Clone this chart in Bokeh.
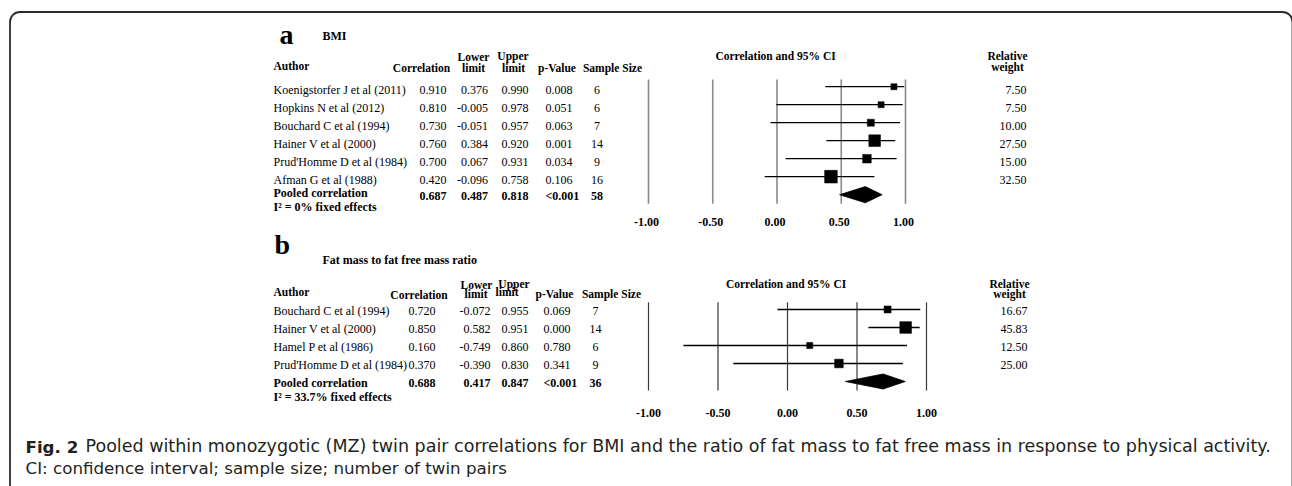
from math import sqrt

from bokeh.core.properties import value
from bokeh.embed import file_html
from bokeh.models import BoxAnnotation, Range1d
from bokeh.plotting import figure
from bokeh.resources import INLINE

# ---------------------------------------------------------------- data
# Panel a: BMI
a_authors = ["Koenigstorfer J et al (2011)", "Hopkins N et al (2012)",
             "Bouchard C et al (1994)", "Hainer V et al (2000)",
             "Prud'Homme D et al (1984)", "Afman G et al (1988)"]
a_corr = [0.910, 0.810, 0.730, 0.760, 0.700, 0.420]
a_lower = [0.376, -0.005, -0.051, 0.384, 0.067, -0.096]
a_upper = [0.990, 0.978, 0.957, 0.920, 0.931, 0.758]
a_pval = [0.008, 0.051, 0.063, 0.001, 0.034, 0.106]
a_size = [6, 6, 7, 14, 9, 16]
a_weight = [7.50, 7.50, 10.00, 27.50, 15.00, 32.50]
a_pooled = [0.687, 0.487, 0.818]          # estimate, lower, upper
a_pooled_p = "<0.001"
a_pooled_n = 58
a_het = "I\u00b2 = 0% fixed effects"

# Panel b: fat mass to fat free mass ratio
b_authors = ["Bouchard C et al (1994)", "Hainer V et al (2000)",
             "Hamel P et al (1986)", "Prud'Homme D et al (1984)"]
b_corr = [0.720, 0.850, 0.160, 0.370]
b_lower = [-0.072, 0.582, -0.749, -0.390]
b_upper = [0.955, 0.951, 0.860, 0.830]
b_pval = [0.069, 0.000, 0.780, 0.341]
b_size = [7, 14, 6, 9]
b_weight = [16.67, 45.83, 12.50, 25.00]
b_pooled = [0.688, 0.417, 0.847]
b_pooled_p = "<0.001"
b_pooled_n = 36
b_het = "I\u00b2 = 33.7% fixed effects"

ticks = [-1.0, -0.5, 0.0, 0.5, 1.0]
tick_labels = ["-1.00", "-0.50", "0.00", "0.50", "1.00"]

caption_bold = "Fig. 2"
caption_1 = ("Pooled within monozygotic (MZ) twin pair correlations for BMI and the ratio "
             "of fat mass to fat free mass in response to physical activity.")
caption_2 = "CI: confidence interval; sample size; number of twin pairs"

# ---------------------------------------------------------------- layout
W, H = 1292, 486
SERIF = "Liberation Serif"
SANS = "DejaVu Sans"
RAISE = 0.33   # lifts glyphs so that the given y is their baseline

layout_a = dict(
    letter=("a", 279, 43), title=("BMI", 322, 39.5),
    heads=[("Author", 273, 69.5, "left"), ("Correlation", 421, 71.7, "center"),
           ("Lower", 473, 60, "center"), ("limit", 473, 71.7, "center"),
           ("Upper", 512.5, 59.3, "center"), ("limit", 513, 71.7, "center"),
           ("p-Value", 556.5, 71.7, "center"), ("Sample Size", 612, 71.7, "center")],
    ci_head_y=59.3, rel=(1007, 59.3, 70),
    px_m1=648, px_p1=905, row0=86.2, dy=18.0,
    col_author=273, col_corr=446, col_lower=487.5, col_upper=528, col_p=545,
    col_n=596.5, col_w=1026,
    text_off=7.5, pooled_lab_off=2.5, pooled_val_off=5.0, het_off=16.5,
    tick_off=31.0, tick_dx=-2, half_diamond=0.45, sq_max=12.7,
    grid_color="#8a8a8a", grid_width=1.6,
)

layout_b = dict(
    letter=("b", 274, 253.5), title=("Fat mass to fat free mass ratio", 322, 263.3),
    heads=[("Author", 273, 295, "left"), ("Correlation", 418.5, 298.3, "center"),
           ("Lower", 476, 288.3, "center"), ("limit", 475.5, 297.3, "center"),
           ("Upper", 513.5, 287.7, "center"), ("limit", 506.5, 295, "center"),
           ("p-Value", 554, 297.3, "center"), ("Sample Size", 611, 297.3, "center")],
    ci_head_y=287.7, rel=(1009, 287.7, 297.3),
    px_m1=648, px_p1=926, row0=309.0, dy=18.0,
    col_author=273, col_corr=435, col_lower=490, col_upper=528, col_p=543,
    col_n=595, col_w=1027,
    text_off=5.5, pooled_lab_off=5.7, pooled_val_off=5.7, het_off=19.5,
    tick_off=35.7, tick_dx=0, half_diamond=0.42, sq_max=11.7,
    grid_color="#3a3a3a", grid_width=1.2,
)

p = figure(width=W, height=H, x_range=Range1d(0, W), y_range=Range1d(H, 0),
           x_axis_type=None, y_axis_type=None, toolbar_location=None,
           output_backend="svg", min_border=0, outline_line_color=None,
           background_fill_color="white", border_fill_color="white")
p.grid.visible = False


def put_text(xs, ys, texts, size, bold=False, align="left", font=SERIF,
             color="black", scale=1.0, **kw):
    lift = RAISE * size / scale
    p.text(x=xs, y=[y - lift for y in ys], text=texts, text_font=value(font),
           text_font_size=f"{size}px",
           text_font_style="bold" if bold else "normal",
           text_align=align, text_baseline="alphabetic", text_color=color, **kw)


def panel(key, authors, corr, lower, upper, pval, size, weight,
          pooled, pooled_p, pooled_n, het, L):
    xr, yr = "c" + key, "r" + key
    unit = (L["px_p1"] - L["px_m1"]) / 2.0
    p.extra_x_ranges[xr] = Range1d(-1 - L["px_m1"] / unit, 1 + (W - L["px_p1"]) / unit)
    p.extra_y_ranges[yr] = Range1d((H - L["row0"]) / L["dy"], -L["row0"] / L["dy"])

    n = len(authors)
    rows = list(range(n))
    prow = n
    dy = L["dy"]
    rk = dict(y_range_name=yr, scale=dy)

    # titles and headers
    s, x, y = L["letter"]
    put_text([x], [y], [s], 28, bold=True)
    s, x, y = L["title"]
    put_text([x], [y], [s], 12, bold=True)
    for s, x, y, al in L["heads"]:
        put_text([x], [y], [s], 11.5, bold=True, align=al)
    put_text([0.0], [L["ci_head_y"]], ["Correlation  and 95% CI"], 11.5, bold=True,
             align="center", x_range_name=xr)
    rx, ry1, ry2 = L["rel"]
    put_text([rx], [ry1], ["Relative"], 11.5, bold=True, align="center")
    put_text([rx], [ry2], ["weight"], 11.5, bold=True, align="center")

    # study rows
    ty = [r + L["text_off"] / dy for r in rows]
    put_text([L["col_author"]] * n, ty, authors, 12, **rk)
    put_text([L["col_corr"]] * n, ty, [f"{v:.3f}" for v in corr], 12, align="right", **rk)
    put_text([L["col_lower"]] * n, ty, [f"{v:.3f}" for v in lower], 12, align="right", **rk)
    put_text([L["col_upper"]] * n, ty, [f"{v:.3f}" for v in upper], 12, align="right", **rk)
    put_text([L["col_p"]] * n, ty, [f"{v:.3f}" for v in pval], 12, **rk)
    put_text([L["col_n"]] * n, ty, [str(v) for v in size], 12, align="center", **rk)
    put_text([L["col_w"]] * n, ty, [f"{v:.2f}" for v in weight], 12, align="right", **rk)

    # pooled row
    put_text([L["col_author"]], [prow + L["pooled_lab_off"] / dy], ["Pooled correlation"], 12,
             bold=True, **rk)
    put_text([L["col_author"]], [prow + L["het_off"] / dy], [het], 12, bold=True, **rk)
    vy = prow + L["pooled_val_off"] / dy
    put_text([L["col_corr"]], [vy], [f"{pooled[0]:.3f}"], 12, bold=True, align="right", **rk)
    put_text([L["col_lower"]], [vy], [f"{pooled[1]:.3f}"], 12, bold=True, align="right", **rk)
    put_text([L["col_upper"]], [vy], [f"{pooled[2]:.3f}"], 12, bold=True, align="right", **rk)
    put_text([L["col_p"]], [vy], [pooled_p], 12, bold=True, **rk)
    put_text([L["col_n"]], [vy], [str(pooled_n)], 12, bold=True, align="center", **rk)

    # reference lines at each tick
    p.segment(x0=ticks, x1=ticks, y0=[-0.4] * len(ticks), y1=[prow + 0.5] * len(ticks),
              line_color=L["grid_color"], line_width=L["grid_width"],
              x_range_name=xr, y_range_name=yr)
    put_text(ticks, [prow + L["tick_off"] / dy] * len(ticks), tick_labels, 12, bold=True,
             align="center", x_range_name=xr, x_offset=L["tick_dx"], **rk)

    # confidence intervals and weighted point estimates
    p.segment(x0=lower, x1=upper, y0=rows, y1=rows, line_color="black", line_width=1.3,
              x_range_name=xr, y_range_name=yr)
    wmax = max(weight)
    sizes = [L["sq_max"] * sqrt(w / wmax) for w in weight]
    p.scatter(x=corr, y=rows, size=sizes, marker="square", fill_color="black",
              line_color="black", line_width=0.5, x_range_name=xr, y_range_name=yr)

    # pooled diamond
    hd = L["half_diamond"]
    p.patch(x=[pooled[1], pooled[0], pooled[2], pooled[0]],
            y=[prow, prow - hd, prow, prow + hd],
            fill_color="black", line_color="black", line_width=0.8,
            x_range_name=xr, y_range_name=yr)


panel("a", a_authors, a_corr, a_lower, a_upper, a_pval, a_size, a_weight,
      a_pooled, a_pooled_p, a_pooled_n, a_het, layout_a)
panel("b", b_authors, b_corr, b_lower, b_upper, b_pval, b_size, b_weight,
      b_pooled, b_pooled_p, b_pooled_n, b_het, layout_b)

# caption
put_text([25], [451.7], [caption_bold], 16.7, bold=True, font=SANS, color="#231f20")
put_text([85], [451.7], [caption_1], 17.5, font=SANS, color="#231f20")
put_text([25], [473], [caption_2], 16.7, font=SANS, color="#231f20")

# rounded figure frame
p.add_layout(BoxAnnotation(left=9.5, right=1292, top=11.5, bottom=510,
                           fill_color=None, fill_alpha=0, line_color="#2b2b2b",
                           line_alpha=1.0, line_width=1.8, border_radius=10))

open("out.html", "w").write(file_html(p, INLINE))
